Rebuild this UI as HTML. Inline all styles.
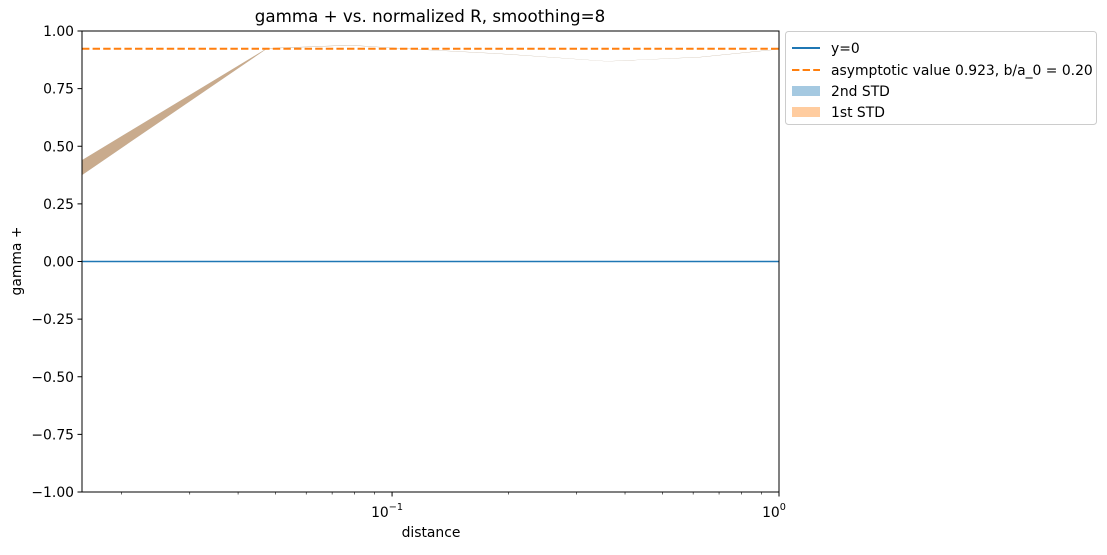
<!DOCTYPE html>
<html><head><meta charset="utf-8"><style>
body{margin:0;background:#fff;}
svg text{font-family:"DejaVu Sans","Liberation Sans",sans-serif;fill:#000;}
</style></head><body>
<svg width="1107" height="550" xmlns="http://www.w3.org/2000/svg">
<g id="marks"></g>
<g id="axes"></g>
</svg>
<script>
const distances=[0.0158,0.0475,0.078,0.109,0.19,0.36,0.625,1.0];
const band2Lower=[0.375,0.9235,0.9375,0.9225,0.901,0.868,0.886,0.921];
const band2Upper=[0.44,0.925,0.939,0.9235,0.902,0.869,0.887,0.922];
const band1Lower=[0.375,0.9235,0.9375,0.9225,0.901,0.868,0.886,0.921];
const band1Upper=[0.44,0.925,0.939,0.9235,0.902,0.869,0.887,0.922];
const asymptote=[0.923];
const zeroLine=[0];
const yTicks=[1,0.75,0.5,0.25,0,-0.25,-0.5,-0.75,-1];
const yTickLabels=["1.00","0.75","0.50","0.25","0.00","\u22120.25","\u22120.50","\u22120.75","\u22121.00"];
const L=82,R=779,T=31,B=492;
const xmin=Math.log10(0.0158),xmax=0;
function X(v){return L+(Math.log10(v)-xmin)/(xmax-xmin)*(R-L);}
function Y(v){return B-(v+1)/2*(B-T);}
const NS="http://www.w3.org/2000/svg";
function mk(t,a,p){const e=document.createElementNS(NS,t);for(const k in a)e.setAttribute(k,a[k]);p.appendChild(e);return e;}
const marks=document.getElementById('marks'),axes=document.getElementById('axes');
function band(lo,hi,color,name){
 let d="M"+distances.map((x,i)=>X(x)+","+Y(hi[i])).join("L");
 for(let i=distances.length-1;i>=0;i--)d+="L"+X(distances[i])+","+Y(lo[i]);
 const p=mk('path',{d:d+"Z",fill:color,'fill-opacity':0.4},marks);
 
 
}
band(band2Lower,band2Upper,'#1f77b4','band-2nd-std');
band(band1Lower,band1Upper,'#ff7f0e','band-1st-std');
const z=mk('line',{x1:L,x2:R,y1:Y(zeroLine[0]),y2:Y(zeroLine[0]),stroke:'#1f77b4','stroke-width':1.5},marks);


const a=mk('line',{x1:L,x2:R,y1:Y(asymptote[0]),y2:Y(asymptote[0]),stroke:'#ff7f0e','stroke-width':2,'stroke-dasharray':'7.4,3.2'},marks);


const fr=mk('rect',{x:L,y:T,width:R-L,height:B-T,fill:'none',stroke:'#000','stroke-width':1},axes);


yTicks.forEach((v,i)=>{
 mk('line',{x1:L-4.5,x2:L,y1:Y(v),y2:Y(v),stroke:'#000'},axes);
 const t=mk('text',{x:L-8,y:Y(v)+5,'text-anchor':'end','font-size':13.9},axes);
 t.textContent=yTickLabels[i];
 
 
});
[0.1,1].forEach(v=>mk('line',{x1:X(v),x2:X(v),y1:B,y2:B+4.5,stroke:'#000'},axes));
[0.02,0.03,0.04,0.05,0.06,0.07,0.08,0.09,0.2,0.3,0.4,0.5,0.6,0.7,0.8,0.9].forEach(v=>mk('line',{x1:X(v),x2:X(v),y1:B,y2:B+2.5,stroke:'#000','stroke-width':0.6},axes));
[[0.1,"\u22121"],[1,"0"]].forEach(([v,e])=>{
 const t=mk('text',{x:X(v)-5,y:B+25,'text-anchor':'middle','font-size':13.9},axes);
 t.innerHTML='10<tspan dy="-7" font-size="9.7">'+e+'</tspan>';
 
 
});
</script>
<svg style="position:absolute;left:0;top:0" width="1107" height="550" xmlns="http://www.w3.org/2000/svg">
<text x="430" y="22" text-anchor="middle" font-size="16.7">gamma + vs. normalized R, smoothing=8</text>
<text x="431" y="537" text-anchor="middle" font-size="13.9">distance</text>
<text x="21" y="261" text-anchor="middle" font-size="13.9" transform="rotate(-90 21 261)">gamma +</text>
<g>
<rect x="785.5" y="31.5" width="311" height="93" rx="3" fill="#fff" stroke="#ccc"/>
<line x1="792" x2="820" y1="48" y2="48" stroke="#1f77b4" stroke-width="2"/>
<text x="831" y="53" font-size="13.9">y=0</text>
<line x1="792" x2="820" y1="70" y2="70" stroke="#ff7f0e" stroke-width="2" stroke-dasharray="7.4,3.2"/>
<text x="831" y="75" font-size="13.9">asymptotic value 0.923, b/a_0 = 0.20</text>
<rect x="792" y="86" width="28" height="10" fill="#1f77b4" fill-opacity="0.4"/>
<text x="831" y="96" font-size="13.9">2nd STD</text>
<rect x="792" y="107" width="28" height="10" fill="#ff7f0e" fill-opacity="0.4"/>
<text x="831" y="117" font-size="13.9">1st STD</text>
</g>
</svg>
</body></html>
